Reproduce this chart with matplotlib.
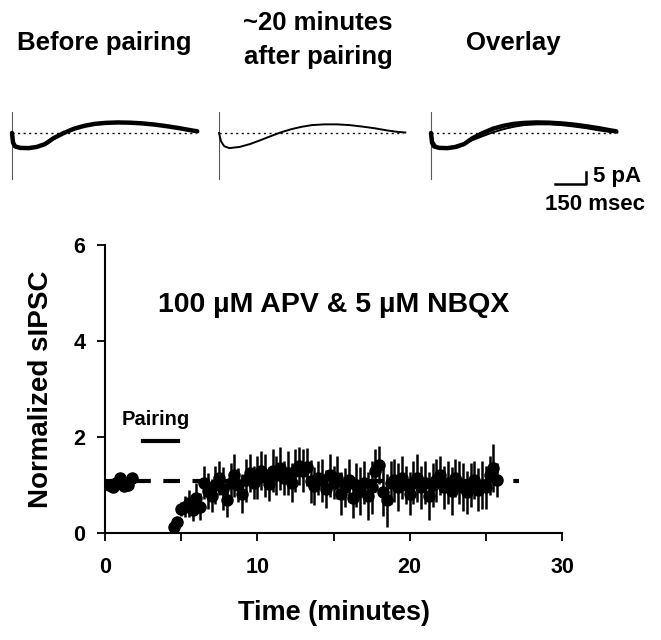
import matplotlib
matplotlib.use("Agg")
import matplotlib.pyplot as plt

plt.rcParams['font.family'] = ['Liberation Sans', 'DejaVu Sans']
plt.rcParams['font.weight'] = 'bold'

# --- time course data (minutes, normalized sIPSC, s.e.m.) ---
base_t = [0.25, 0.5, 0.75, 1.0, 1.25, 1.5, 1.75]
base_y = [1.00, 0.96, 1.05, 1.15, 0.98, 1.00, 1.15]
base_e = [0.08, 0.08, 0.10, 0.10, 0.08, 0.08, 0.10]

post_t = [4.50, 4.75, 5.00, 5.25, 5.50, 5.75, 6.00, 6.25, 6.50, 6.75,
          7.00, 7.25, 7.50, 7.75, 8.00, 8.25, 8.50, 8.75, 9.00, 9.25,
          9.50, 9.75, 10.00, 10.25, 10.50, 10.75, 11.00, 11.25, 11.50, 11.75,
          12.00, 12.25, 12.50, 12.75, 13.00, 13.25, 13.50, 13.75, 14.00, 14.25,
          14.50, 14.75, 15.00, 15.25, 15.50, 15.75, 16.00, 16.25, 16.50, 16.75,
          17.00, 17.25, 17.50, 17.75, 18.00, 18.25, 18.50, 18.75, 19.00, 19.25,
          19.50, 19.75, 20.00, 20.25, 20.50, 20.75, 21.00, 21.25, 21.50, 21.75,
          22.00, 22.25, 22.50, 22.75, 23.00, 23.25, 23.50, 23.75, 24.00, 24.25,
          24.50, 24.75, 25.00, 25.25, 25.50, 25.75]
post_y = [0.12, 0.22, 0.50, 0.55, 0.62, 0.48, 0.72, 0.55, 1.05, 0.88,
          0.78, 1.00, 1.15, 0.92, 0.68, 1.05, 1.20, 1.00, 0.82, 1.10,
          1.25, 1.05, 1.15, 1.30, 1.20, 1.02, 1.30, 1.20, 1.35, 1.15,
          1.25, 1.05, 1.30, 1.40, 1.30, 1.38, 1.08, 0.98, 1.15, 1.10,
          0.92, 1.20, 1.05, 1.15, 0.82, 0.95, 1.10, 0.72, 1.00, 0.88,
          1.05, 0.78, 0.95, 1.30, 1.42, 0.85, 0.68, 1.05, 1.10, 0.95,
          1.15, 1.00, 0.82, 1.05, 1.15, 0.95, 1.05, 0.78, 1.00, 1.10,
          1.20, 0.95, 1.05, 0.88, 1.15, 1.05, 0.95, 0.85, 1.00, 1.10,
          0.90, 1.00, 0.95, 1.20, 1.35, 1.10]
post_e = [0.08, 0.10, 0.15, 0.22, 0.28, 0.22, 0.32, 0.28, 0.35, 0.38,
          0.35, 0.40, 0.35, 0.45, 0.35, 0.40, 0.45, 0.35, 0.40, 0.45,
          0.40, 0.35, 0.45, 0.40, 0.45, 0.35, 0.45, 0.40, 0.45, 0.35,
          0.45, 0.40, 0.45, 0.40, 0.45, 0.40, 0.45, 0.40, 0.35, 0.45,
          0.40, 0.45, 0.35, 0.45, 0.45, 0.40, 0.45, 0.40, 0.45, 0.50,
          0.45, 0.50, 0.55, 0.45, 0.40, 0.50, 0.55, 0.45, 0.45, 0.50,
          0.45, 0.40, 0.45, 0.45, 0.50, 0.45, 0.45, 0.50, 0.45, 0.45,
          0.40, 0.45, 0.45, 0.50, 0.40, 0.45, 0.50, 0.45, 0.45, 0.40,
          0.45, 0.50, 0.45, 0.40, 0.50, 0.35]

baseline_level = 1.08
baseline_span = [0.0, 27.2]
pairing_span = [2.5, 4.8]
pairing_level = 1.92

x_ticks = [0, 10, 20, 30]
x_minor = [5, 15, 25]
y_ticks = [0, 2, 4, 6]

# --- example sIPSC traces (ms, pA) ---
before_ms = [0, 5, 15, 40, 80, 120, 160, 200, 250, 300, 350, 400, 450,
             510, 570, 630, 690, 750, 810, 860, 895]
before_pa = [0, -4.0, -5.6, -6.2, -6.3, -5.8, -4.6, -2.2, 0.0, 1.8, 3.0,
             3.8, 4.2, 4.4, 4.3, 4.0, 3.5, 2.8, 2.0, 1.2, 0.7]
after_ms = [0, 10, 25, 50, 100, 150, 200, 250, 300, 350, 400, 450, 510,
            570, 630, 690, 750, 810, 860, 900]
after_pa = [0, -3.5, -5.5, -6.3, -5.8, -4.6, -3.0, -1.3, 0.3, 1.6, 2.6,
            3.3, 3.6, 3.6, 3.3, 2.7, 2.0, 1.1, 0.5, 0.2]

W, H = 661, 640
fig = plt.figure(figsize=(W / 100, H / 100), dpi=100)


def fx(px):
    return px / W


def fy(py):
    return 1 - py / H


# trace panels
px_per_ms = 0.207
px_per_pa = 2.4
ms_lim = (-20, 946)
pa_lim = (-24, 10)
zero_px = [12, 219, 431]
base_py = 133
tax = []
for x0 in zero_px:
    left = x0 + ms_lim[0] * px_per_ms
    w = (ms_lim[1] - ms_lim[0]) * px_per_ms
    bottom = base_py - pa_lim[0] * px_per_pa
    h = (pa_lim[1] - pa_lim[0]) * px_per_pa
    a = fig.add_axes([fx(left), fy(bottom), fx(w), h / H])
    a.set_xlim(ms_lim)
    a.set_ylim(pa_lim)
    a.axis('off')
    a.plot([0, 0], [-19, 8.7], color='0.35', lw=0.8)
    a.plot([0, 890], [0, 0], color='k', lw=1.0, ls=(0, (1.5, 2.5)))
    tax.append(a)

tax[0].plot(before_ms, before_pa, color='k', lw=3.2, solid_capstyle='round')
tax[1].plot(after_ms, after_pa, color='k', lw=1.4)
tax[2].plot(after_ms, after_pa, color='k', lw=1.4)
tax[2].plot(before_ms, before_pa, color='k', lw=3.2, solid_capstyle='round')

# scale bar
sb = tax[2]
sb.plot([600, 750, 750], [-21.3, -21.3, -16.3], color='k', lw=1.8,
        clip_on=False)
sb.text(785, -18.0, '5 pA', fontsize=16, fontweight='bold',
        ha='left', va='center', clip_on=False)
sb.text(790, -30.0, '150 msec', fontsize=16, fontweight='bold',
        ha='center', va='center', clip_on=False)

fig.text(fx(104), fy(43), 'Before pairing', fontsize=18.5, fontweight='bold',
         ha='center', va='center')
fig.text(fx(318), fy(40), '~20 minutes\nafter pairing', fontsize=18.5,
         fontweight='bold', ha='center', va='center', linespacing=1.5)
fig.text(fx(513), fy(43), 'Overlay', fontsize=18.5, fontweight='bold',
         ha='center', va='center')

# main time-course axes
ax = fig.add_axes([fx(105), fy(533), fx(457), 288 / H])
ax.set_xlim(0, 30)
ax.set_ylim(0, 6)
ax.spines['top'].set_visible(False)
ax.spines['right'].set_visible(False)
ax.spines['left'].set_linewidth(1.5)
ax.spines['bottom'].set_linewidth(1.5)
ax.set_xticks(x_ticks)
ax.set_xticks(x_minor, minor=True)
ax.set_yticks(y_ticks)
ax.tick_params(axis='both', which='both', direction='out', length=6,
               width=1.3, labelsize=15.5)
ax.tick_params(axis='x', pad=11)
ax.tick_params(axis='y', pad=8)
for lab in ax.get_xticklabels() + ax.get_yticklabels():
    lab.set_fontweight('bold')

ax.plot(baseline_span, [baseline_level, baseline_level], color='k', lw=3,
        ls=(0, (4, 3)), zorder=1)
ax.errorbar(base_t, base_y, yerr=base_e, fmt='o', color='k', ms=8,
            elinewidth=1.8, capsize=0, zorder=3)
ax.errorbar(post_t, post_y, yerr=post_e, fmt='o', color='k', ms=8,
            elinewidth=1.8, capsize=0, zorder=3)

ax.plot(pairing_span, [pairing_level, pairing_level], color='k', lw=3)
ax.text(sum(pairing_span) / 2 - 0.3, 2.37, 'Pairing', fontsize=14.5,
        fontweight='bold', ha='center', va='center')
ax.text(15.0, 4.75, '100 \u00b5M APV & 5 \u00b5M NBQX', fontsize=20.5,
        fontweight='bold', ha='center', va='center')

ax.set_xlabel('Time (minutes)', fontsize=19.5, fontweight='bold', labelpad=16)
ax.set_ylabel('Normalized sIPSC', fontsize=20, fontweight='bold', labelpad=14)

fig.savefig('out.png', dpi=100)
